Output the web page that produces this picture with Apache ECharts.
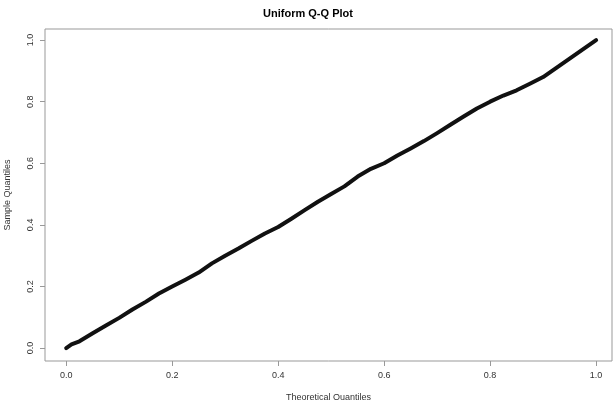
<!DOCTYPE html>
<html>
<head>
<meta charset="UTF-8">
<script src="https://cdn.jsdelivr.net/npm/echarts@6/dist/echarts.min.js"></script>
<style>
  body { margin: 0; background: #fff; }
  #chart { width: 616px; height: 400px; }
</style>
</head>
<body>
<div id="chart"></div>
<script>
// theoretical vs sample quantiles
const theoretical = [0, 0.01, 0.025, 0.05, 0.075, 0.1, 0.125, 0.15, 0.175, 0.2, 0.225, 0.25, 0.275, 0.3, 0.325, 0.35, 0.375, 0.4, 0.425, 0.45, 0.475, 0.5, 0.525, 0.55, 0.575, 0.6, 0.625, 0.65, 0.675, 0.7, 0.725, 0.75, 0.775, 0.8, 0.825, 0.85, 0.875, 0.9, 0.925, 0.95, 0.975, 1.0];
const sample = [0, 0.012, 0.022, 0.048, 0.073, 0.098, 0.125, 0.15, 0.177, 0.2, 0.222, 0.245, 0.275, 0.3, 0.323, 0.348, 0.372, 0.393, 0.42, 0.448, 0.475, 0.5, 0.525, 0.557, 0.582, 0.6, 0.625, 0.648, 0.672, 0.698, 0.725, 0.752, 0.778, 0.8, 0.82, 0.837, 0.858, 0.88, 0.91, 0.94, 0.97, 1.0];
const ticks = [0, 0.2, 0.4, 0.6, 0.8, 1.0];

const chart = echarts.init(document.getElementById('chart'));
const pts = theoretical.map((t, i) => [t, sample[i]]);
const font = { fontFamily: 'Liberation Sans, Arial, sans-serif', fontSize: 9, color: '#333' };

chart.setOption({
  animation: false,
  title: {
    text: 'Uniform Q-Q Plot',
    left: 'center', top: 3,
    textStyle: { fontFamily: 'Liberation Sans, Arial, sans-serif', fontSize: 11, fontWeight: 'bold', color: '#000' }
  },
  grid: { left: 45, right: 4, top: 29, height: 332, outerBoundsMode: 'none', containLabel: false,
          show: true, borderColor: '#999', borderWidth: 1 },
  xAxis: {
    type: 'value', min: -0.04, max: 1.03,
    name: 'Theoretical Quantiles', nameLocation: 'middle', nameGap: 32,
    nameTextStyle: font,
    axisLine: { show: false, onZero: false },
    splitLine: { show: false },
    axisTick: { show: true, length: 5, customValues: ticks, lineStyle: { color: '#999' } },
    axisLabel: Object.assign({ customValues: ticks, margin: 10, formatter: v => v.toFixed(1) }, font)
  },
  yAxis: {
    type: 'value', min: -0.042, max: 1.036,
    name: 'Sample Quantiles', nameLocation: 'middle', nameGap: 33,
    nameTextStyle: font,
    axisLine: { show: false, onZero: false },
    splitLine: { show: false },
    axisTick: { show: true, length: 5, customValues: ticks, lineStyle: { color: '#999' } },
    axisLabel: Object.assign({ customValues: ticks, margin: 10, rotate: 90, formatter: v => v.toFixed(1) }, font)
  },
  series: [{
    type: 'line',
    data: pts,
    showSymbol: false,
    lineStyle: { color: '#111', width: 4, cap: 'round', join: 'round' }
  }]
});
</script>
</body>
</html>
